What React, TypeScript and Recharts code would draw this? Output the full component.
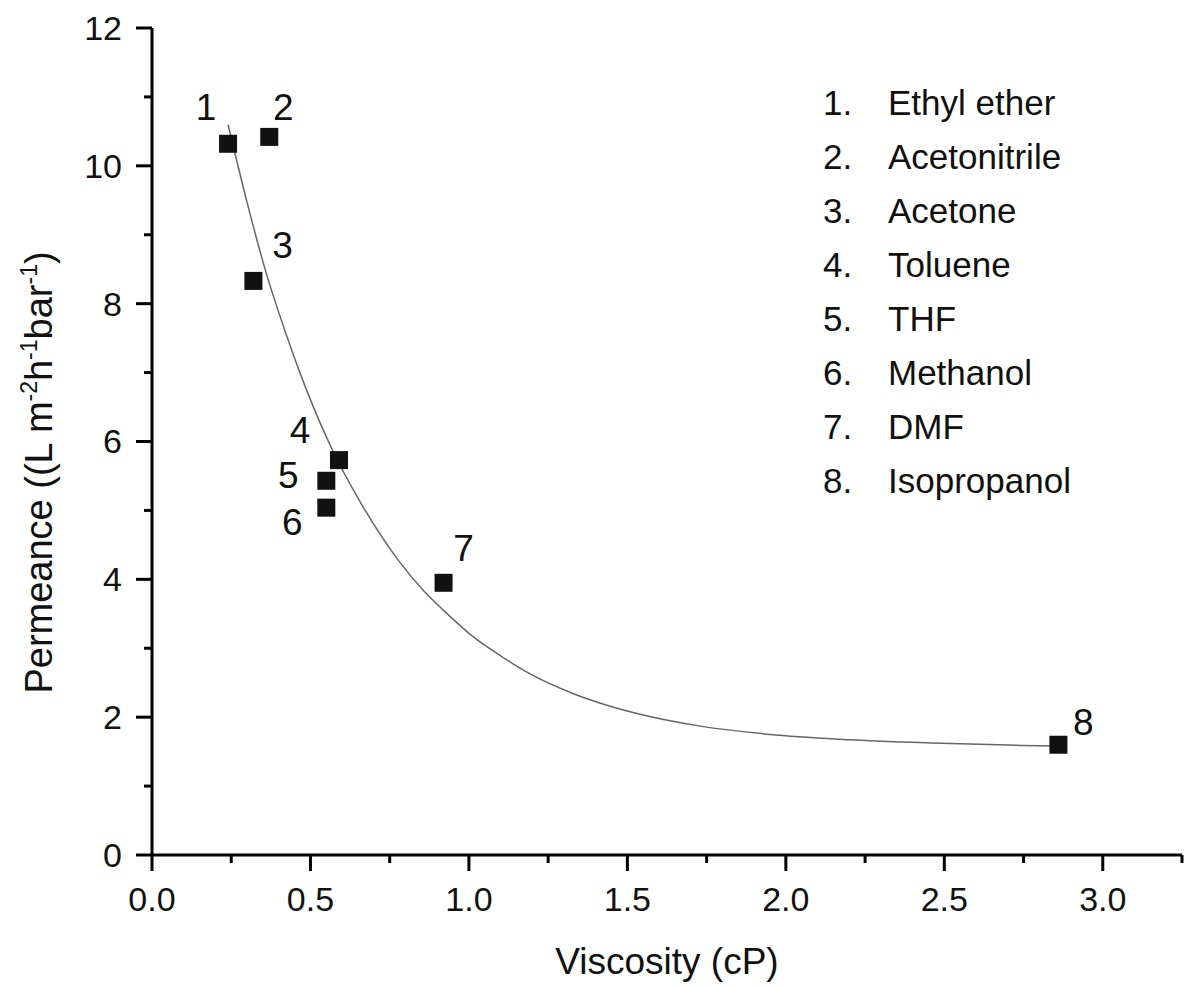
import React from 'react';
import { ComposedChart, Line, Scatter, XAxis, YAxis, Label, Customized } from 'recharts';

const solventIds = [1, 2, 3, 4, 5, 6, 7, 8];
const solventNames = ['Ethyl ether', 'Acetonitrile', 'Acetone', 'Toluene', 'THF', 'Methanol', 'DMF', 'Isopropanol'];
const viscosity = [0.24, 0.37, 0.32, 0.59, 0.55, 0.55, 0.92, 2.86];
const permeance = [10.32, 10.42, 8.33, 5.73, 5.43, 5.04, 3.95, 1.6];

// fitted curve
const fitX = [0.24, 0.3, 0.36, 0.42, 0.49, 0.57, 0.66, 0.78, 0.86, 0.92, 1.01, 1.1, 1.18, 1.33, 1.43, 1.56, 1.73, 1.95, 2.17, 2.46, 2.74, 2.86];
const fitY = [10.6, 9.47, 8.45, 7.6, 6.72, 5.87, 5.1, 4.26, 3.82, 3.55, 3.18, 2.89, 2.66, 2.34, 2.18, 2.02, 1.87, 1.75, 1.68, 1.625, 1.59, 1.58];

const xTicks = [0, 0.25, 0.5, 0.75, 1, 1.25, 1.5, 1.75, 2, 2.25, 2.5, 2.75, 3, 3.25];
const yTicks = [0, 1, 2, 3, 4, 5, 6, 7, 8, 9, 10, 11, 12];

// where each number label sits relative to its marker
const labelOffsets = [[-22, -37], [14, -30], [29, -36], [-39, -30], [-38, -6], [-34, 14], [20, -35], [25, -23]];

const FONT = '"Liberation Sans", Arial, Helvetica, sans-serif';

const points = solventIds.map((id, i) => ({ id, x: viscosity[i], y: permeance[i] }));
const curve = fitX.map((x, i) => ({ x, y: fitY[i] }));

const XTick = (props: any) => {
  const { x, y, payload } = props;
  const v = payload.value;
  const major = Math.abs(v * 2 - Math.round(v * 2)) < 1e-6;
  return (
    <g>
      <line x1={x} y1={y} x2={x} y2={y + (major ? 16 : 8)} stroke="#000" strokeWidth={3} />
      {major && (
        <text x={x} y={y + 44} textAnchor="middle" dy="0.35em" fontSize={34} fontFamily={FONT} fill="#111">
          {v.toFixed(1)}
        </text>
      )}
    </g>
  );
};

const YTick = (props: any) => {
  const { x, y, payload } = props;
  const v = payload.value;
  const major = v % 2 === 0;
  return (
    <g>
      <line x1={x - (major ? 16 : 8)} y1={y} x2={x} y2={y} stroke="#000" strokeWidth={3} />
      {major && (
        <text x={x - 30} y={y} textAnchor="end" dy="0.35em" fontSize={34} fontFamily={FONT} fill="#111">
          {v}
        </text>
      )}
    </g>
  );
};

const SquareMark = (props: any) => {
  const { cx, cy, payload } = props;
  const off = labelOffsets[payload.id - 1];
  return (
    <g>
      <rect x={cx - 9} y={cy - 9} width={18} height={18} fill="#111" />
      <text x={cx + off[0]} y={cy + off[1]} textAnchor="middle" dy="0.35em" fontSize={37} fontFamily={FONT} fill="#111">
        {payload.id}
      </text>
    </g>
  );
};

const YTitle = (props: any) => {
  const { viewBox } = props;
  const cx = 39;
  const cy = viewBox.y + viewBox.height / 2 + 31;
  return (
    <text
      x={cx}
      y={cy}
      transform={`rotate(-90, ${cx}, ${cy})`}
      textAnchor="middle"
      dy="0.35em"
      fontSize={38}
      fontFamily={FONT}
      fill="#111"
    >
      Permeance ((L m
      <tspan fontSize={23} dy={-15}>-2</tspan>
      <tspan dy={15}>h</tspan>
      <tspan fontSize={23} dy={-15}>-1</tspan>
      <tspan dy={15}>bar</tspan>
      <tspan fontSize={23} dy={-15}>-1</tspan>
      <tspan dy={15}>)</tspan>
    </text>
  );
};

const XTitle = (props: any) => {
  const { viewBox } = props;
  return (
    <text
      x={viewBox.x + viewBox.width / 2}
      y={viewBox.y + 106}
      textAnchor="middle"
      dy="0.35em"
      fontSize={37}
      fontFamily={FONT}
      fill="#111"
    >
      Viscosity (cP)
    </text>
  );
};

const SolventList = () => (
  <g fontFamily={FONT} fontSize={35} fill="#111">
    {solventNames.map((name, i) => (
      <g key={name}>
        <text x={823} y={103 + i * 54} dy="0.35em">{solventIds[i]}.</text>
        <text x={888} y={103 + i * 54} dy="0.35em">{name}</text>
      </g>
    ))}
  </g>
);

export default function App() {
  return (
    <div style={{ position: 'absolute', left: 0, top: 0, background: '#fff' }}>
      <ComposedChart width={1185} height={987} margin={{ top: 28, right: 3, bottom: 0, left: 0 }}>
        <XAxis
          type="number"
          dataKey="x"
          domain={[0, 3.25]}
          ticks={xTicks}
          interval={0}
          height={132}
          tickSize={0}
          tickMargin={0}
          tickLine={false}
          tick={<XTick />}
          axisLine={{ stroke: '#000', strokeWidth: 3 }}
          allowDataOverflow
        >
          <Label content={<XTitle />} />
        </XAxis>
        <YAxis
          type="number"
          domain={[0, 12]}
          ticks={yTicks}
          interval={0}
          width={152}
          tickSize={0}
          tickMargin={0}
          tickLine={false}
          tick={<YTick />}
          axisLine={{ stroke: '#000', strokeWidth: 3 }}
          allowDataOverflow
        >
          <Label content={<YTitle />} />
        </YAxis>
        <Line
          data={curve}
          dataKey="y"
          type="monotone"
          dot={false}
          stroke="#666"
          strokeWidth={1.5}
          isAnimationActive={false}
        />
        <Scatter data={points} dataKey="y" shape={<SquareMark />} isAnimationActive={false} />
        <Customized component={SolventList} />
      </ComposedChart>
    </div>
  );
}
